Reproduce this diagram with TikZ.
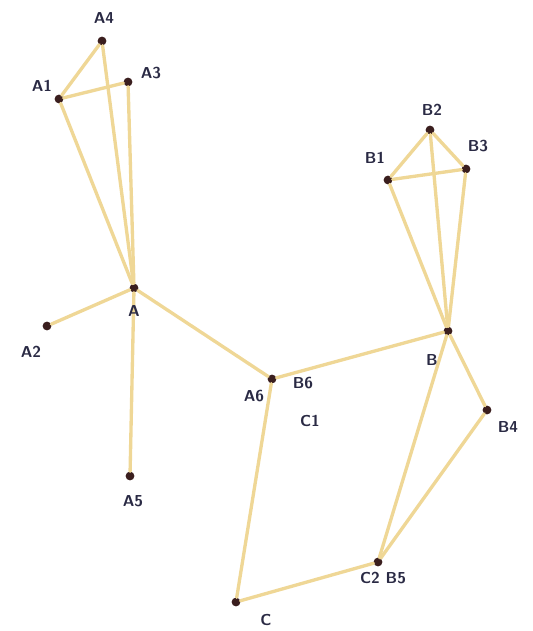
\documentclass[tikz,border=0pt]{standalone}
\usetikzlibrary{positioning}
\definecolor{StickWood}{HTML}{EFD796}
\definecolor{StickHead}{HTML}{3A1E1E}
\definecolor{PenInk}{HTML}{2A2A44}
\tikzset{
  every node/.style={font=\sffamily\bfseries, text=PenInk},
  joint/.style={circle, fill=StickHead, inner sep=0pt, minimum size=5pt},
  stick/.style={draw=StickWood, line width=1.9pt, line cap=round},
  tag/.style={font=\sffamily\bfseries\small, text=PenInk, inner sep=1pt},
}
\begin{document}
\begin{tikzpicture}[x=0.02cm,y=-0.02cm]
  \useasboundingbox (0,0) rectangle (532,631);

  % Joints of the first figure
  \node[joint] (A)  at (134,288) {};
  \node[joint] (A1) at (59,99) {};
  \node[joint] (A2) at (47,326) {};
  \node[joint] (A3) at (128,82) {};
  \node[joint] (A4) at (102,41) {};
  \node[joint] (A5) at (130,476) {};
  \node[joint] (A6) at (272,379) {};

  % Joints of the second figure
  \node[joint] (B)  at (448,331) {};
  \node[joint] (B1) at (388,180) {};
  \node[joint] (B2) at (430,130) {};
  \node[joint] (B3) at (466,169) {};
  \node[joint] (B4) at (487,410) {};
  \node[joint] (B5) at (378,562) {};
  \node[joint] (C)  at (236,602) {};

  % Sticks
  \foreach \u/\v in {A/A1, A/A4, A/A3, A1/A4, A1/A3, A/A2, A/A5, A/A6,
                     A6/B, A6/C, C/B5, B/B1, B/B2, B/B3, B1/B2, B1/B3,
                     B2/B3, B/B4, B4/B5, B/B5}
    \draw[stick] (\u) -- (\v);

  % Labels
  \node[tag] (tA4) at (104,18) {A4};
  \node[tag] (tA1) at (42,86) {A1};
  \node[tag] (tA3) at (151,73) {A3};
  \node[tag] (tA)  at (134,311) {A};
  \node[tag] (tA2) at (31,352) {A2};
  \node[tag] (tA5) at (133,501) {A5};
  \node[tag] (tA6) at (254,396) {A6};
  \node[tag] (tB6) at (303,383) {B6};
  \node[tag] (tC1) at (310,421) {C1};
  \node[tag] (tB1) at (375,158) {B1};
  \node[tag] (tB2) at (432,110) {B2};
  \node[tag] (tB3) at (478,146) {B3};
  \node[tag] (tB)  at (432,360) {B};
  \node[tag] (tB4) at (508,427) {B4};
  \node[tag] (tB5) at (383,578) {C2 B5};
  \node[tag] (tC)  at (266,620) {C};
\end{tikzpicture}
\end{document}
